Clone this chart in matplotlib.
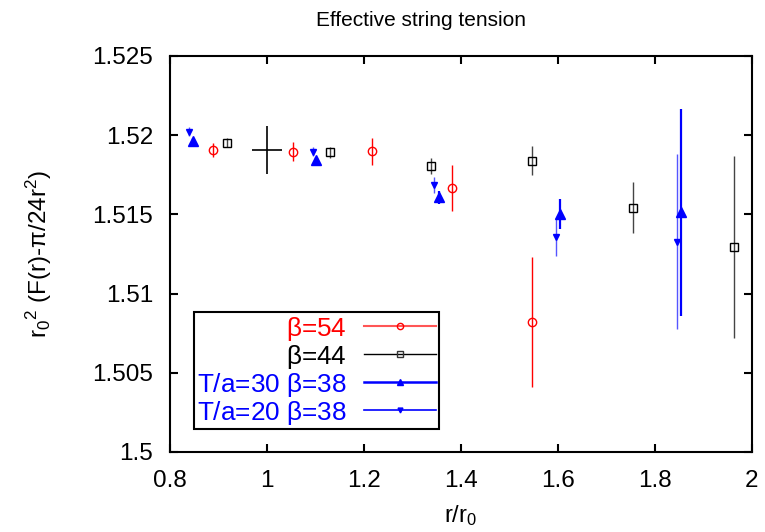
import matplotlib
matplotlib.use("Agg")
import matplotlib.pyplot as plt
from matplotlib.lines import Line2D

plt.rcParams['font.family'] = ['Liberation Sans', 'DejaVu Sans']
plt.rcParams['mathtext.fontset'] = 'custom'
plt.rcParams['mathtext.rm'] = 'Liberation Sans'
plt.rcParams['mathtext.it'] = 'Liberation Sans'

# beta=54
x54 = [0.889, 1.054, 1.217, 1.381, 1.546]
y54 = [1.51905, 1.51894, 1.51898, 1.51665, 1.50821]
e54 = [0.00045, 0.0006, 0.00085, 0.00146, 0.00408]

# beta=44
x44 = [0.918, 1.129, 1.338, 1.546, 1.754, 1.962]
y44 = [1.51953, 1.51892, 1.51806, 1.51839, 1.51542, 1.51292]
e44 = [0.0003, 0.00035, 0.0005, 0.0009, 0.0016, 0.00575]

# T/a=30 beta=38
x30 = [0.848, 1.101, 1.354, 1.604, 1.853]
y30 = [1.51963, 1.51843, 1.51608, 1.51503, 1.51513]
e30 = [0.0002, 0.0002, 0.0004, 0.00095, 0.00653]

# T/a=20 beta=38
x20 = [0.840, 1.094, 1.345, 1.596, 1.845]
y20 = [1.52022, 1.51896, 1.51686, 1.51355, 1.51328]
e20 = [0.0003, 0.0003, 0.0005, 0.0012, 0.00552]

# reference cross
xc = [1.0]
yc = [1.51905]
xce = [0.03]
yce = [0.0015]

labels = [r'$\beta$=54', r'$\beta$=44', r'T/a=30 $\beta$=38', r'T/a=20 $\beta$=38']
xticks = [0.8, 1.0, 1.2, 1.4, 1.6, 1.8, 2.0]
xticklabels = ["0.8", "1", "1.2", "1.4", "1.6", "1.8", "2"]
yticks = [1.5, 1.505, 1.51, 1.515, 1.52, 1.525]
yticklabels = ["1.5", "1.505", "1.51", "1.515", "1.52", "1.525"]

fig = plt.figure(figsize=(7.65, 5.32), dpi=100)
ax = fig.add_axes([170/765, 80/532, 582/765, 396/532])

ax.errorbar(x54, y54, yerr=e54, fmt='o', color='#ff0000', mfc='none', mec='#ff0000',
            ms=6, mew=1.0, elinewidth=1.0, capsize=0)
ax.errorbar(x44, y44, yerr=e44, fmt='s', color='black', mfc='none', mec='black',
            ms=5.5, mew=1.0, elinewidth=1.0, ecolor='#444444', capsize=0)
ax.errorbar(x30, y30, yerr=e30, fmt='^', color='#0000ff', mfc='#0000ff', mec='#0000ff',
            ms=6.5, mew=1.0, elinewidth=1.6, capsize=0)
ax.errorbar(x20, y20, yerr=e20, fmt='v', color='#0000ff', mfc='#0000ff', mec='#0000ff',
            ms=4.5, mew=1.0, elinewidth=1.0, ecolor='#5555ff', capsize=0)
ax.errorbar(xc, yc, xerr=xce, yerr=yce, fmt='none', ecolor='black', elinewidth=1.2, capsize=0)

ax.set_xlim(0.8, 2.0)
ax.set_ylim(1.5, 1.525)
ax.set_xticks(xticks)
ax.set_xticklabels(xticklabels)
ax.set_yticks(yticks)
ax.set_yticklabels(yticklabels)
ax.tick_params(direction='in', length=6, width=1.5, top=True, right=True,
               labelsize=17.5)
ax.tick_params(axis='y', pad=12)
ax.tick_params(axis='x', pad=13)
for s in ax.spines.values():
    s.set_linewidth(1.5)

fig.text(421/765, 1 - 21/532, 'Effective string tension', fontsize=15,
         family=['Liberation Sans Narrow', 'Liberation Sans'], ha='center', va='center')
ax.set_xlabel(r'r/r$_0$', fontsize=17, labelpad=8)
ax.set_ylabel(r'r$_0$$^2$ (F(r)-$\pi$/24r$^2$)', fontsize=17.5, labelpad=28)

handles = [
    Line2D([], [], color='#ff5555', lw=1.5, marker='o', ms=4.5, mfc='none', mec='#ff0000', mew=1.0),
    Line2D([], [], color='black', lw=1.0, marker='s', ms=4.5, mfc='none', mec='#333333', mew=1.0),
    Line2D([], [], color='#0000ff', lw=1.8, marker='^', ms=5, mfc='#0000ff', mec='#0000ff'),
    Line2D([], [], color='#0000ff', lw=1.2, marker='v', ms=3.5, mfc='#0000ff', mec='#0000ff'),
]
leg = ax.legend(handles, labels, loc='upper left', bbox_to_anchor=(24/582, (452-312)/396),
                markerfirst=False, fontsize=18.8, frameon=True, fancybox=False,
                edgecolor='black', framealpha=1, handlelength=2.75, handletextpad=0.7,
                labelspacing=0.0, borderpad=0.1, borderaxespad=0)
leg.get_frame().set_linewidth(1.5)
for t, c in zip(leg.get_texts(), ['#ff0000', 'black', '#0000ff', '#0000ff']):
    t.set_color(c)

fig.savefig('out.png', dpi=100)
